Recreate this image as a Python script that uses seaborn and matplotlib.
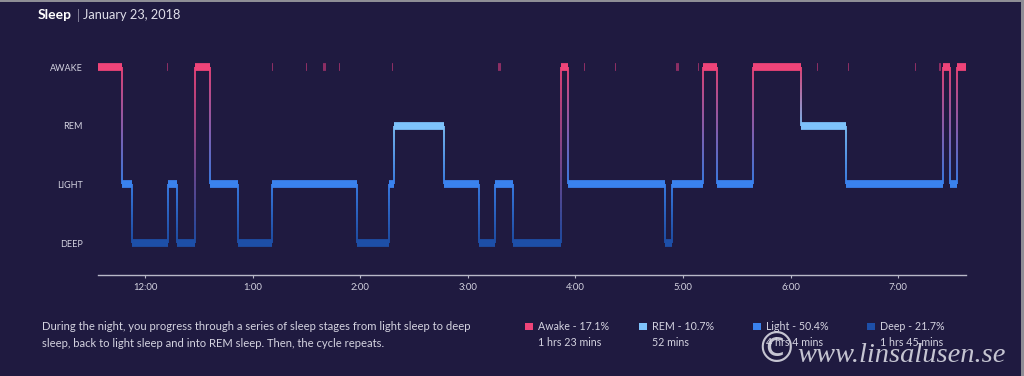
import numpy as np
import pandas as pd
import matplotlib
matplotlib.use("Agg")
import matplotlib.pyplot as plt
from matplotlib.collections import LineCollection
from matplotlib.patches import Rectangle
import seaborn as sns

# sleep stages, minutes relative to 12:00 AM
seg_start = [-26, -13, -7, 13, 18, 28, 36, 52, 71, 118, 136, 139, 167, 186, 195,
             205, 232, 236, 290, 294, 311, 319, 339, 366, 391, 445, 449, 453]
seg_stage = ["Awake", "Light", "Deep", "Light", "Deep", "Awake", "Light", "Deep",
             "Light", "Deep", "Light", "REM", "Light", "Deep", "Light", "Deep",
             "Awake", "Light", "Deep", "Light", "Awake", "Light", "Awake", "REM",
             "Light", "Awake", "Light", "Awake"]
night_end = 458

# brief awakenings
brief_start = [12.3, 70.8, 89.8, 99.3, 108.2, 137.7, 196.9, 244.8, 262.1,
               296.2, 308.4, 374.8, 392.0, 429.3, 442.7]
brief_len = [0.6, 0.6, 0.6, 1.4, 0.6, 0.6, 1.4, 0.6, 0.6, 1.4, 0.6, 0.6, 0.6, 0.6, 1.4]

stage_names = ["DEEP", "LIGHT", "REM", "AWAKE"]
stage_level = {"Deep": 0, "Light": 1, "REM": 2, "Awake": 3}
stage_color = {"Awake": "#ef4479", "REM": "#7ec3fb", "Light": "#3a82ee", "Deep": "#1d4fa8"}
brief_color = "#8c2e64"

tick_minutes = [0, 60, 120, 180, 240, 300, 360, 420]
tick_labels = ["12:00", "1:00", "2:00", "3:00", "4:00", "5:00", "6:00", "7:00"]

legend_names = ["Awake - 17.1%", "REM - 10.7%", "Light - 50.4%", "Deep - 21.7%"]
legend_times = ["1 hrs 23 mins", "52 mins", "4 hrs 4 mins", "1 hrs 45 mins"]
legend_keys = ["Awake", "REM", "Light", "Deep"]

bg = "#1f1a40"
txt = "#d4d3e0"

sns.set_theme(style="dark")
plt.rcParams["font.family"] = ["Lato", "DejaVu Sans"]

seg_end = seg_start[1:] + [night_end]
rows = []
for i, (s, e, st) in enumerate(zip(seg_start, seg_end, seg_stage)):
    rows.append({"t": s, "level": stage_level[st], "stage": st, "seg": i})
    rows.append({"t": e, "level": stage_level[st], "stage": st, "seg": i})
df = pd.DataFrame(rows)

brows = []
for i, (s, d) in enumerate(zip(brief_start, brief_len)):
    brows.append({"t": s, "level": 3, "seg": i})
    brows.append({"t": s + d, "level": 3, "seg": i})
bdf = pd.DataFrame(brows)

fig = plt.figure(figsize=(10.24, 3.76), dpi=100, facecolor=bg)
ax = fig.add_axes([98 / 1024, 101 / 376, 868 / 1024, 225.6 / 376])
ax.set_facecolor(bg)

# gradient transitions between stages
segs, cols = [], []
n = 40
for i in range(1, len(seg_start)):
    a, b = seg_stage[i - 1], seg_stage[i]
    ya, yb = stage_level[a], stage_level[b]
    ca = np.array(matplotlib.colors.to_rgb(stage_color[a]))
    cb = np.array(matplotlib.colors.to_rgb(stage_color[b]))
    ys = np.linspace(ya, yb, n + 1)
    for k in range(n):
        segs.append([(seg_start[i], ys[k]), (seg_start[i], ys[k + 1])])
        f = (k + 0.5) / n
        cols.append(ca * (1 - f) + cb * f)
ax.add_collection(LineCollection(segs, colors=cols, linewidths=1.3, zorder=1))

sns.lineplot(data=bdf, x="t", y="level", units="seg", estimator=None, color=brief_color,
             linewidth=5.6, solid_capstyle="butt", legend=False, ax=ax, zorder=2)
sns.lineplot(data=df, x="t", y="level", hue="stage", units="seg", estimator=None,
             palette=stage_color, linewidth=5.6, solid_capstyle="butt", legend=False,
             ax=ax, zorder=3)

ax.set_xlim(-26.2, 457.8)
ax.set_ylim(-0.545, 3.3)
ax.set_yticks([0, 1, 2, 3])
ax.set_yticklabels(stage_names)
ax.set_xticks(tick_minutes)
ax.set_xticklabels(tick_labels)
ax.set_xlabel("")
ax.set_ylabel("")
ax.grid(False)
for side in ["top", "right", "left"]:
    ax.spines[side].set_visible(False)
ax.spines["bottom"].set_color("#b8b8c8")
ax.spines["bottom"].set_linewidth(1.0)
ax.tick_params(axis="y", length=0, pad=11, labelsize=6.5, labelcolor=txt)
ax.tick_params(axis="x", bottom=True, direction="out", length=2.5, width=0.8,
               color="#b8b8c8", pad=3, labelsize=6.8, labelcolor=txt)

# title
fig.text(38 / 1024, 1 - 15 / 376, "Sleep", color="white", fontsize=10,
         fontweight="bold", va="center", ha="left")
fig.text(77 / 1024, 1 - 15 / 376, "|", color="#8a88a0", fontsize=9, va="center", ha="left")
fig.text(83 / 1024, 1 - 15 / 376, "January 23, 2018", color="#e0dfea", fontsize=9.2,
         va="center", ha="left")

# description
fig.text(42 / 1024, 1 - 327 / 376,
         "During the night, you progress through a series of sleep stages from light sleep to deep",
         color=txt, fontsize=8.1, va="center", ha="left")
fig.text(42 / 1024, 1 - 343.5 / 376,
         "sleep, back to light sleep and into REM sleep. Then, the cycle repeats.",
         color=txt, fontsize=8.1, va="center", ha="left")

# legend
sq_x = [525, 639, 753, 867]
for x0, name, tm, key in zip(sq_x, legend_names, legend_times, legend_keys):
    fig.add_artist(Rectangle((x0 / 1024, 1 - 330 / 376), 7.5 / 1024, 7.5 / 376,
                             transform=fig.transFigure, color=stage_color[key], lw=0))
    fig.text((x0 + 12.5) / 1024, 1 - 326 / 376, name, color=txt, fontsize=7.7,
             va="center", ha="left")
    fig.text((x0 + 12.5) / 1024, 1 - 342.5 / 376, tm, color=txt, fontsize=7.7,
             va="center", ha="left")

# watermark
fig.text(755 / 1024, 1 - 350 / 376, "\u00a9", color="#d8d8e2", fontsize=30,
         family="DejaVu Sans", va="center", ha="left", alpha=0.9)
fig.text(797 / 1024, 1 - 362 / 376, "www.linsalusen.se", color="#d8d8e2", fontsize=20.5,
         family="Liberation Serif", style="italic", va="baseline", ha="left", alpha=0.9)

# screenshot frame edges
fig.add_artist(Rectangle((0, 1 - 2 / 376), 1, 2 / 376, transform=fig.transFigure,
                         color="#8e8e96", lw=0))
fig.add_artist(Rectangle((1021 / 1024, 0), 3 / 1024, 1, transform=fig.transFigure,
                         color="#8e8e96", lw=0))

fig.savefig("out.png", dpi=100, facecolor=bg)
